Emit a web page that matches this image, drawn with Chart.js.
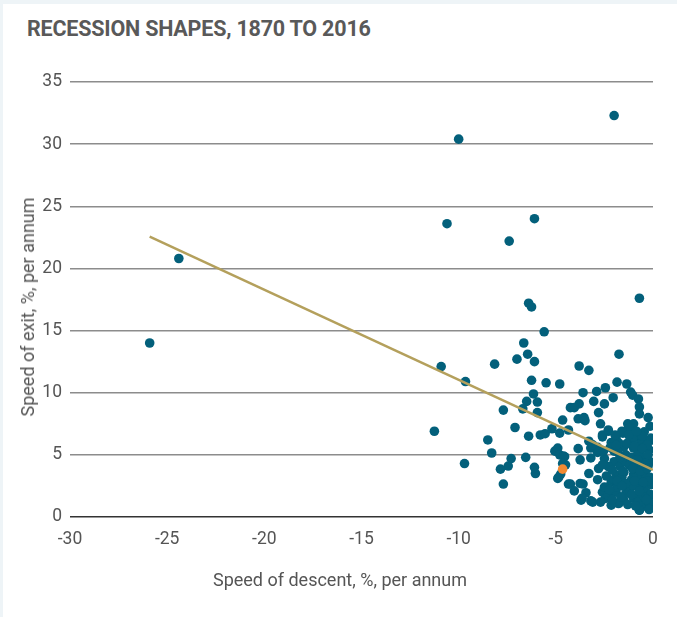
<!DOCTYPE html>
<html>
<head>
<meta charset="utf-8">
<script src="https://cdn.jsdelivr.net/npm/chart.js@4.4.1/dist/chart.umd.min.js"></script>
<style>
  body { margin: 0; background: #eef4f7; width: 677px; height: 617px; overflow: hidden; font-family: Roboto, sans-serif; }
  #card { position: absolute; left: 3px; top: 4px; width: 674px; height: 613px; background: #fff; }
  #title { position: absolute; left: 24px; top: 13px; font-size: 21.5px; line-height: 24px; font-weight: 700; color: #595959; letter-spacing: -0.2px; }
  #myChart { position: absolute; left: 0; top: 0; }
  .axis-title { position: absolute; font-size: 18px; line-height: 22px; color: #555; white-space: nowrap; }
  #xTitle { left: 0; width: 674px; top: 565px; text-align: center; }
  #yTitle { left: 25px; top: 303px; transform: translate(-50%, -50%) rotate(-90deg); }
</style>
</head>
<body>
<div id="card">
  <div id="title">RECESSION SHAPES, 1870 TO 2016</div>
  <canvas id="myChart" width="674" height="613"></canvas>
  <div class="axis-title" id="xTitle">Speed of descent, %, per annum</div>
  <div class="axis-title" id="yTitle">Speed of exit, %, per annum</div>
</div>
<script>
// speed of descent (x) and speed of exit (y) for each recession, % per annum
var descentX = [
  -25.9, -24.4, -10.0, -2.0, -10.6, -6.1, -7.4, -0.7, -6.4, -6.25,
  -5.6, -10.9, -9.65, -11.25, -9.7, -8.15, -6.65, -6.45, -7.0, -6.1,
  -6.25, -6.15, -6.5, -5.95, -7.7, -6.7, -5.95, -7.1, -8.5, -6.4,
  -5.8, -8.3, -7.3, -6.55, -7.45, -7.85, -6.1, -6.05, -7.7, -5.5,
  -4.8, -4.65, -5.55, -5.2, -4.8, -5.05, -4.9, -4.8, -4.55, -4.5,
  -4.75, -4.9, -4.35, -4.25, -1.75, -3.8, -3.3, -1.85, -1.35, -3.6,
  -2.9, -2.45, -1.15, -1.05, -0.75, -3.05, -2.5, -2.05, -3.8, -4.05,
  -0.7, -0.7, -2.8, -0.25, -0.15, -3.85, -3.55, -3.5, -2.7, -1.3,
  -4.35, -2.6, -2.3, -0.8, -0.45, -0.05, -3.3, -3.2, -3.85, -4.6,
  -2.85, -3.75, -3.2, -4.65, -4.85, -4.25, -4.05, -3.75, -3.6, -3.7,
  -3.45, -3.2, -3.3, -2.85, -2.6, -2.45, -1.75, -0.7, -0.35, -0.0,
  -0.1, -1.0, -3.1, -2.15, -2.6, -2.3, -1.9, -1.55, -1.25, -0.9,
  -0.45, -0.1, -0.6, -0.2, -0.7, -1.0, -1.5, -1.8, -1.65, -2.0,
  -2.3, -1.3, -0.95, -0.5, -0.15, -0.35, -0.7, -1.0, -1.5, -1.9,
  -2.15, -2.5, -2.3, -2.7, -1.9, -1.55, -1.25, -0.9, -0.45, -0.1,
  -0.35, -0.7, -1.0, -1.5, -1.8, -2.15, -0.6, -0.2, -0.7, -2.85,
  -2.8, -2.5, -3.1, -3.65, -1.2, -0.8, -1.7, -1.1, -0.5, -1.4,
  -2.0, -0.3, -1.6, -0.9, -0.4, -1.2, -0.75, -2.4, -1.85, -0.25,
  -1.4, -0.6, -2.1, -1.05, -0.15, -1.6, -0.55, -2.2, -1.3, -0.9,
  -0.45, -1.75, -0.65, -2.0, -1.95, -1.45, -0.3, -1.15, -0.85, -2.55,
  -0.2, -1.0, -1.65, -2.6, -1.9, -1.35, -0.95, -0.55, -0.25, -1.7,
  -1.2, -0.8, -0.4, -2.1, -1.55, -1.05, -0.65, -0.3, -1.85, -1.4,
  -0.95, -0.5, -2.25, -1.1, -0.7, -1.6, -0.35, -1.25, -0.85
];
var exitY = [
  14.0, 20.8, 30.4, 32.3, 23.6, 24.0, 22.2, 17.6, 17.2, 16.9,
  14.9, 12.1, 10.9, 6.9, 4.3, 12.3, 14.0, 13.1, 12.7, 12.5,
  11.0, 9.9, 9.3, 9.25, 8.6, 8.7, 8.4, 7.2, 6.2, 6.5,
  6.6, 5.15, 4.7, 4.8, 4.1, 3.85, 4.0, 3.5, 2.65, 10.8,
  10.7, 7.8, 6.7, 7.1, 6.75, 5.3, 5.55, 5.0, 4.85, 4.2,
  3.45, 3.1, 2.65, 8.8, 13.1, 12.15, 11.8, 10.85, 10.7, 10.0,
  10.1, 10.4, 10.05, 9.8, 9.5, 9.3, 9.1, 9.6, 9.1, 8.8,
  8.85, 8.3, 8.4, 8.0, 7.3, 7.9, 8.0, 7.75, 7.5, 7.5,
  7.0, 6.45, 6.9, 6.4, 6.2, 6.2, 6.1, 5.55, 5.5, 4.9,
  5.6, 4.6, 4.75, 4.3, 3.2, 2.65, 2.1, 2.7, 2.65, 1.35,
  1.95, 1.3, 3.5, 3.0, 2.0, 1.5, 1.1, 0.55, 1.2, 1.0,
  1.8, 7.5, 5.8, 6.0, 6.6, 7.0, 6.35, 6.75, 7.15, 6.6,
  6.85, 6.35, 5.95, 5.4, 5.2, 5.55, 5.65, 5.2, 4.75, 4.45,
  4.05, 4.35, 4.6, 4.75, 4.45, 3.95, 3.6, 3.4, 3.6, 3.4,
  2.8, 2.4, 1.75, 1.2, 2.0, 2.7, 2.35, 2.8, 3.1, 2.6,
  2.0, 1.75, 1.5, 1.35, 1.1, 0.95, 0.8, 1.2, 0.55, 5.2,
  3.9, 4.7, 1.2, 1.5, 6.1, 5.0, 4.1, 3.0, 2.3, 1.9,
  5.3, 5.8, 6.9, 4.0, 3.5, 2.1, 1.2, 3.3, 2.4, 4.1,
  5.0, 2.6, 1.4, 6.3, 3.2, 3.2, 6.5, 5.6, 1.0, 0.9,
  1.6, 5.95, 4.4, 3.0, 6.6, 4.5, 2.9, 4.8, 3.2, 5.3,
  0.6, 2.5, 1.6, 4.2, 5.8, 5.9, 5.7, 5.5, 5.0, 4.8,
  4.2, 4.6, 4.3, 3.8, 3.7, 3.9, 3.7, 3.9, 2.9, 2.7,
  2.9, 2.8, 2.2, 1.8, 2.1, 2.5, 1.4, 6.6, 6.9
];

// the one highlighted recession
var highlightX = [-4.65];
var highlightY = [3.85];

// fitted trend line, end points
var trendX = [-25.9, 0];
var trendY = [22.55, 3.8];

var xTicks = [-30, -25, -20, -15, -10, -5, 0];
var yTicks = [0, 5, 10, 15, 20, 25, 30, 35];

function toPoints(xs, ys) {
  var pts = [];
  for (var i = 0; i < xs.length; ++i) {
    pts.push({ x: xs[i], y: ys[i] });
  }
  return pts;
}

function drawScatter() {
  var tickFont = { family: 'Roboto', size: 17.5 };
  var ctx = document.getElementById('myChart').getContext('2d');
  var myChart = new Chart(ctx, {
    type: 'scatter',
    data: {
      datasets: [
        {
          type: 'line',
          data: toPoints(trendX, trendY),
          borderColor: '#b4a05c',
          borderWidth: 2.5,
          pointRadius: 0,
          fill: false,
          order: 0
        },
        {
          data: toPoints(highlightX, highlightY),
          backgroundColor: '#f28a32',
          borderColor: '#f28a32',
          borderWidth: 0,
          pointRadius: 4.8,
          order: 1
        },
        {
          data: toPoints(descentX, exitY),
          backgroundColor: '#03607b',
          borderColor: '#03607b',
          borderWidth: 0,
          pointRadius: 4.8,
          order: 2
        }
      ]
    },
    options: {
      responsive: false,
      animation: false,
      events: [],
      layout: { padding: { top: 78, right: 24, bottom: 0, left: 0 } },
      plugins: { legend: { display: false }, tooltip: { enabled: false } },
      scales: {
        x: {
          min: -30, max: 0,
          afterBuildTicks: function(axis) {
            axis.ticks = xTicks.map(function(v) { return { value: v }; });
          },
          afterFit: function(axis) { axis.height = 100; },
          grid: { display: false, drawTicks: false },
          border: { display: false },
          ticks: { padding: 12, color: '#555', font: tickFont, maxRotation: 0,
                   callback: function(v) { return String(v); } }
        },
        y: {
          min: 0, max: 35,
          afterBuildTicks: function(axis) {
            axis.ticks = yTicks.map(function(v) { return { value: v }; });
          },
          afterFit: function(axis) { axis.width = 67; },
          grid: {
            drawTicks: false,
            lineWidth: 1.5,
            color: function(c) { return c.tick && c.tick.value === 0 ? '#333' : '#8c8c8c'; }
          },
          border: { display: false },
          ticks: { padding: 8, color: '#555', font: tickFont,
                   callback: function(v) { return String(v); } }
        }
      }
    }
  });
}

drawScatter();
</script>
</body>
</html>
